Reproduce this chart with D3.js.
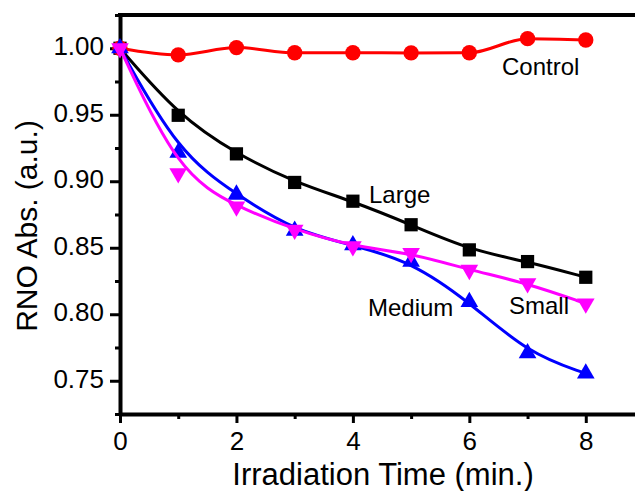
<!DOCTYPE html>
<html>
<head>
<meta charset="utf-8">
<script src="https://cdn.jsdelivr.net/npm/d3@7"></script>
<style>
  body { margin: 0; background: #fff; }
  svg { display: block; font-family: "Liberation Sans", Arial, sans-serif; }
</style>
</head>
<body>
<script>
// Chart size
const width = 635;
const height = 491;
const margin = { top: 15, right: -9, bottom: 77, left: 120 };

// Data
const times = [0, 1, 2, 3, 4, 5, 6, 7, 8];
const control = [1.0, 0.995, 1.0005, 0.9966, 0.9966, 0.9965, 0.9966, 1.0072, 1.0062];
const large = [1.0, 0.9496, 0.9206, 0.8991, 0.885, 0.8673, 0.8484, 0.8396, 0.8278];
const medium = [1.0, 0.9215, 0.89, 0.8628, 0.852, 0.8396, 0.8093, 0.7708, 0.7555];
const small = [1.0, 0.906, 0.881, 0.8635, 0.851, 0.846, 0.8333, 0.8233, 0.808];

const xTicks = [0, 2, 4, 6, 8];
const xMinor = [1, 3, 5, 7];
const yTicks = [0.75, 0.8, 0.85, 0.9, 0.95, 1.0];
const yMinor = [0.725, 0.775, 0.825, 0.875, 0.925, 0.975, 1.025];

const series = [
  { name: "Large", values: large, color: "#000000", symbol: d3.symbolSquare, size: 175, rotate: 0, curve: d3.curveBasis, label: [369, 203] },
  { name: "Control", values: control, color: "#ff0000", symbol: d3.symbolCircle, size: 185, rotate: 0, curve: d3.curveMonotoneX, label: [502, 75] },
  { name: "Medium", values: medium, color: "#0000ff", symbol: d3.symbolTriangle, size: 135, rotate: 0, curve: d3.curveBasis, label: [368, 316] },
  { name: "Small", values: small, color: "#ff00ff", symbol: d3.symbolTriangle, size: 135, rotate: 180, curve: d3.curveBasis, label: [509, 314] },
];

const svg = d3
  .select("body")
  .append("svg")
  .attr("width", width)
  .attr("height", height);

const x = d3
  .scaleLinear()
  .domain([0, 9])
  .range([margin.left, width - margin.right]);

const y = d3
  .scaleLinear()
  .domain([0.725, 1.025])
  .range([height - margin.bottom, margin.top]);

// Axes
const xAxis = svg
  .append("g")
  .attr("transform", `translate(0,${y.range()[0]})`)
  .call(d3.axisBottom(x).tickValues(xTicks).tickSize(9).tickSizeOuter(0).tickPadding(9).tickFormat(d3.format("d")));

svg
  .append("g")
  .attr("transform", `translate(0,${y.range()[0]})`)
  .call(d3.axisBottom(x).tickValues(xMinor).tickSize(5).tickSizeOuter(0).tickFormat(""))
  .select(".domain")
  .remove();

const yAxis = svg
  .append("g")
  .attr("transform", `translate(${x.range()[0]},0)`)
  .call(d3.axisLeft(y).tickValues(yTicks).tickSize(10).tickSizeOuter(0).tickPadding(6).tickFormat(d3.format(".2f")));

svg
  .append("g")
  .attr("transform", `translate(${x.range()[0]},0)`)
  .call(d3.axisLeft(y).tickValues(yMinor).tickSize(5).tickSizeOuter(0).tickFormat(""))
  .select(".domain")
  .remove();

svg.selectAll(".domain").attr("stroke-width", 4).attr("stroke", "#000");
svg.selectAll(".tick line").attr("stroke-width", 3).attr("stroke", "#000");

xAxis.selectAll("text").style("font-size", "26px").attr("fill", "#000");
yAxis.selectAll("text").style("font-size", "26px").attr("fill", "#000").attr("dy", "0.25em");

// Top frame line
svg
  .append("line")
  .attr("x1", x.range()[0] - 2)
  .attr("x2", width)
  .attr("y1", y.range()[1])
  .attr("y2", y.range()[1])
  .attr("stroke", "#000")
  .attr("stroke-width", 4);

// Axis titles
svg
  .append("text")
  .attr("x", 383)
  .attr("y", 485)
  .attr("text-anchor", "middle")
  .style("font-size", "31px")
  .text("Irradiation Time (min.)");

svg
  .append("text")
  .attr("transform", "translate(37,226) rotate(-90)")
  .attr("text-anchor", "middle")
  .style("font-size", "30px")
  .text("RNO Abs. (a.u.)");

// Lines and markers
series.forEach((s) => {
  const line = d3
    .line()
    .x((d, i) => x(times[i]))
    .y((d) => y(d))
    .curve(s.curve);

  svg
    .append("path")
    .datum(s.values)
    .attr("fill", "none")
    .attr("stroke", s.color)
    .attr("stroke-width", 3)
    .attr("d", line);

  svg
    .append("g")
    .selectAll("path")
    .data(s.values)
    .enter()
    .append("path")
    .attr("d", d3.symbol().type(s.symbol).size(s.size))
    .attr("fill", s.color)
    .attr("transform", (d, i) => `translate(${x(times[i])},${y(d)}) rotate(${s.rotate})`);

  svg
    .append("text")
    .attr("x", s.label[0])
    .attr("y", s.label[1])
    .style("font-size", "24px")
    .attr("fill", "#000")
    .text(s.name);
});
</script>
</body>
</html>
